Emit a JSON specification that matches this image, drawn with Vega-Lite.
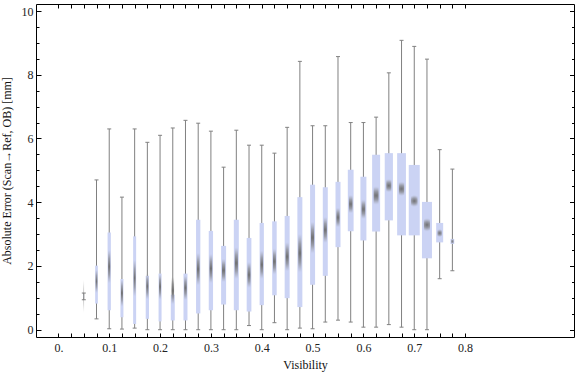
{
  "$schema": "https://vega.github.io/schema/vega-lite/v6.json",
  "width": 538,
  "height": 333,
  "autosize": {"type": "none"},
  "padding": {"left": 36, "top": 4, "right": 2, "bottom": 40},
  "background": "white",
  "config": {
    "view": {"stroke": "#000000", "strokeWidth": 1},
    "axis": {
      "labelFont": "Liberation Serif",
      "labelFontSize": 12,
      "labelColor": "#222222",
      "titleFont": "Liberation Serif",
      "titleFontSize": 12,
      "titleFontWeight": "normal",
      "titleColor": "#111111",
      "domain": false,
      "grid": false,
      "tickColor": "#000000",
      "tickWidth": 1,
      "labelOverlap": false,
      "labelFlush": false,
      "labelBound": false
    }
  },
  "data": {
    "values": [
      {"v": 0.05, "lo": 0.94, "q1": 1.0, "med": 1.05, "q3": 1.1, "hi": 1.15, "nlo": 0.55, "nhi": 1.55, "n": 0.3},
      {"v": 0.075, "lo": 0.34, "q1": 0.82, "med": 1.51, "q3": 2.01, "hi": 4.70, "nlo": 1.16, "nhi": 1.88, "n": 2.7},
      {"v": 0.1, "lo": 0.03, "q1": 0.61, "med": 1.98, "q3": 3.05, "hi": 6.30, "nlo": 1.46, "nhi": 2.50, "n": 3.3},
      {"v": 0.125, "lo": 0.02, "q1": 0.39, "med": 1.15, "q3": 1.59, "hi": 4.16, "nlo": 0.73, "nhi": 1.57, "n": 3.0},
      {"v": 0.15, "lo": 0.05, "q1": 0.18, "med": 1.62, "q3": 2.93, "hi": 6.30, "nlo": 1.05, "nhi": 2.19, "n": 3.0},
      {"v": 0.175, "lo": 0.0, "q1": 0.34, "med": 1.36, "q3": 1.69, "hi": 5.88, "nlo": 0.96, "nhi": 1.76, "n": 3.3},
      {"v": 0.2, "lo": 0.0, "q1": 0.26, "med": 1.35, "q3": 1.76, "hi": 6.10, "nlo": 0.95, "nhi": 1.75, "n": 3.0},
      {"v": 0.225, "lo": 0.0, "q1": 0.29, "med": 1.09, "q3": 1.10, "hi": 6.33, "nlo": 0.80, "nhi": 1.65, "n": 4.0},
      {"v": 0.25, "lo": 0.0, "q1": 0.29, "med": 1.31, "q3": 1.76, "hi": 6.57, "nlo": 0.93, "nhi": 1.69, "n": 4.0},
      {"v": 0.275, "lo": 0.0, "q1": 0.51, "med": 1.90, "q3": 3.45, "hi": 6.48, "nlo": 1.40, "nhi": 2.40, "n": 4.3},
      {"v": 0.3, "lo": 0.0, "q1": 0.61, "med": 1.92, "q3": 3.10, "hi": 6.23, "nlo": 1.47, "nhi": 2.37, "n": 4.3},
      {"v": 0.325, "lo": 0.0, "q1": 0.79, "med": 1.86, "q3": 2.63, "hi": 5.10, "nlo": 1.50, "nhi": 2.22, "n": 5.0},
      {"v": 0.35, "lo": 0.0, "q1": 0.61, "med": 2.09, "q3": 3.45, "hi": 6.26, "nlo": 1.60, "nhi": 2.58, "n": 5.0},
      {"v": 0.375, "lo": 0.13, "q1": 0.57, "med": 1.72, "q3": 2.88, "hi": 5.79, "nlo": 1.32, "nhi": 2.12, "n": 4.7},
      {"v": 0.4, "lo": 0.0, "q1": 0.77, "med": 2.04, "q3": 3.35, "hi": 5.79, "nlo": 1.60, "nhi": 2.48, "n": 4.3},
      {"v": 0.425, "lo": 0.22, "q1": 1.08, "med": 2.14, "q3": 3.40, "hi": 5.54, "nlo": 1.74, "nhi": 2.54, "n": 4.5},
      {"v": 0.45, "lo": 0.0, "q1": 0.99, "med": 2.29, "q3": 3.57, "hi": 6.35, "nlo": 1.84, "nhi": 2.74, "n": 5.0},
      {"v": 0.475, "lo": 0.05, "q1": 0.71, "med": 2.40, "q3": 4.16, "hi": 8.42, "nlo": 1.80, "nhi": 3.00, "n": 5.0},
      {"v": 0.5, "lo": 0.03, "q1": 1.41, "med": 2.89, "q3": 4.55, "hi": 6.40, "nlo": 2.40, "nhi": 3.38, "n": 5.0},
      {"v": 0.525, "lo": 0.24, "q1": 1.69, "med": 3.13, "q3": 4.47, "hi": 6.40, "nlo": 2.73, "nhi": 3.53, "n": 5.0},
      {"v": 0.55, "lo": 0.30, "q1": 2.59, "med": 3.52, "q3": 4.64, "hi": 8.57, "nlo": 3.22, "nhi": 3.82, "n": 5.0},
      {"v": 0.575, "lo": 0.24, "q1": 3.09, "med": 3.94, "q3": 5.02, "hi": 6.50, "nlo": 3.66, "nhi": 4.22, "n": 5.8},
      {"v": 0.6, "lo": 0.08, "q1": 2.80, "med": 3.78, "q3": 4.80, "hi": 6.50, "nlo": 3.48, "nhi": 4.08, "n": 6.0},
      {"v": 0.625, "lo": 0.08, "q1": 3.08, "med": 4.21, "q3": 5.49, "hi": 6.67, "nlo": 3.93, "nhi": 4.49, "n": 8.0},
      {"v": 0.65, "lo": 0.16, "q1": 3.43, "med": 4.52, "q3": 5.54, "hi": 8.06, "nlo": 4.32, "nhi": 4.72, "n": 8.2},
      {"v": 0.675, "lo": 0.08, "q1": 2.96, "med": 4.42, "q3": 5.54, "hi": 9.08, "nlo": 4.20, "nhi": 4.64, "n": 8.8},
      {"v": 0.7, "lo": 0.0, "q1": 2.96, "med": 4.04, "q3": 5.17, "hi": 8.89, "nlo": 3.86, "nhi": 4.22, "n": 11.0},
      {"v": 0.725, "lo": 0.0, "q1": 2.24, "med": 3.29, "q3": 4.01, "hi": 8.49, "nlo": 3.09, "nhi": 3.49, "n": 10.0},
      {"v": 0.75, "lo": 1.60, "q1": 2.74, "med": 3.03, "q3": 3.35, "hi": 5.65, "nlo": 2.91, "nhi": 3.15, "n": 7.0},
      {"v": 0.775, "lo": 1.85, "q1": 2.69, "med": 2.77, "q3": 2.85, "hi": 5.04, "nlo": 2.69, "nhi": 2.85, "n": 3.7}
    ]
  },
  "resolve": {"axis": {"x": "independent", "y": "independent"}, "scale": {"size": "independent"}},
  "layer": [
    {
      "mark": {"type": "rule", "color": "#808080", "strokeWidth": 1},
      "encoding": {
        "x": {
          "field": "v", "type": "quantitative",
          "scale": {"domain": [-0.0342, 1.0044], "nice": false, "zero": false},
          "axis": {
            "orient": "bottom",
            "title": "Visibility",
            "titlePadding": 6,
            "values": [0,0.025,0.05,0.075,0.1,0.125,0.15,0.175,0.2,0.225,0.25,0.275,0.3,0.325,0.35,0.375,0.4,0.425,0.45,0.475,0.5,0.525,0.55,0.575,0.6,0.625,0.65,0.675,0.7,0.725,0.75,0.775,0.8],
            "labelExpr": "datum.value == 0 ? '0.' : (abs(datum.value*10 - round(datum.value*10)) < 0.000001 ? format(datum.value, '.1f') : '')",
            "tickSize": -4,
            "labelPadding": 9
          }
        },
        "y": {
          "field": "lo", "type": "quantitative",
          "scale": {"domain": [-0.229, 10.22], "nice": false, "zero": false},
          "axis": {
            "orient": "left",
            "title": "Absolute Error (Scan→Ref, OB) [mm]",
            "titlePadding": 8,
            "values": [0,0.5,1,1.5,2,2.5,3,3.5,4,4.5,5,5.5,6,6.5,7,7.5,8,8.5,9,9.5,10],
            "labelExpr": "datum.value % 2 == 0 ? format(datum.value, 'd') : ''",
            "tickSize": {"condition": {"test": "datum.value % 2 == 0", "value": -5}, "value": -3},
            "labelPadding": 8
          }
        },
        "y2": {"field": "hi"}
      }
    },
    {
      "mark": {"type": "tick", "orient": "horizontal", "color": "#808080", "size": 4, "thickness": 1, "opacity": 1},
      "encoding": {
        "x": {
          "field": "v", "type": "quantitative",
          "axis": {
            "orient": "top", "title": null, "labels": false, "tickSize": -4,
            "values": [0,0.025,0.05,0.075,0.1,0.125,0.15,0.175,0.2,0.225,0.25,0.275,0.3,0.325,0.35,0.375,0.4,0.425,0.45,0.475,0.5,0.525,0.55,0.575,0.6,0.625,0.65,0.675,0.7,0.725,0.75,0.775,0.8]
          }
        },
        "y": {
          "field": "lo", "type": "quantitative",
          "axis": {
            "orient": "right", "title": null, "labels": false,
            "tickSize": {"condition": {"test": "datum.value % 2 == 0", "value": -4.5}, "value": -2.5},
            "values": [0,0.5,1,1.5,2,2.5,3,3.5,4,4.5,5,5.5,6,6.5,7,7.5,8,8.5,9,9.5,10]
          }
        }
      }
    },
    {
      "mark": {"type": "tick", "orient": "horizontal", "color": "#808080", "size": 4, "thickness": 1, "opacity": 1},
      "encoding": {
        "x": {"field": "v", "type": "quantitative", "axis": null},
        "y": {"field": "hi", "type": "quantitative", "axis": null}
      }
    },
    {
      "mark": {"type": "bar", "color": "#cbd3f4", "opacity": 1},
      "encoding": {
        "x": {"field": "v", "type": "quantitative", "axis": null},
        "y": {"field": "q1", "type": "quantitative", "axis": null},
        "y2": {"field": "q3"},
        "size": {"field": "n", "type": "quantitative", "legend": null, "scale": {"domain": [0, 11], "range": [0, 11], "zero": true}}
      }
    },
    {
      "mark": {
        "type": "bar",
        "opacity": 1,
        "fill": {
          "gradient": "radial",
          "x1": 0.5, "y1": 0.5, "r1": 0,
          "x2": 0.5, "y2": 0.5, "r2": 0.5,
          "stops": [
            {"offset": 0, "color": "rgba(105,105,105,0.95)"},
            {"offset": 0.5, "color": "rgba(120,120,120,0.6)"},
            {"offset": 1, "color": "rgba(140,140,140,0)"}
          ]
        }
      },
      "encoding": {
        "x": {"field": "v", "type": "quantitative", "axis": null},
        "y": {"field": "nlo", "type": "quantitative", "axis": null},
        "y2": {"field": "nhi"},
        "size": {"field": "n", "type": "quantitative", "legend": null, "scale": {"domain": [0, 11], "range": [0.3, 6.6], "zero": false}}
      }
    }
  ]
}
